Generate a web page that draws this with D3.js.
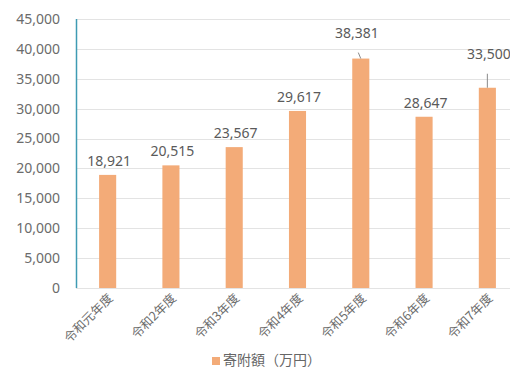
<!DOCTYPE html>
<meta charset="utf-8">
<head>
  <style>
    body { margin: 0; background: #fff; }
    text { font-family: "Noto Sans", "Noto Sans CJK JP", sans-serif; }
    .grid line { stroke: #e3e3e3; stroke-width: 1px; }
    .ytick { fill: #6b6b6b; font-size: 14px; }
    .xtick { fill: #6b6b6b; font-size: 12.5px; font-family: "Noto Sans CJK JP", sans-serif; }
    .val { fill: #5a5a5a; font-size: 14px; }
    .legend { fill: #666; font-size: 14px; font-family: "Noto Sans CJK JP", sans-serif; }
  </style>
  <script src="https://d3js.org/d3.v7.min.js"></script>
</head>
<body>
  <svg width="510" height="369"></svg>
  <script>
    var years = ["令和元年度", "令和2年度", "令和3年度", "令和4年度", "令和5年度", "令和6年度", "令和7年度"];
    var amounts = [18921, 20515, 23567, 29617, 38381, 28647, 33500];
    var yTicks = [0, 5000, 10000, 15000, 20000, 25000, 30000, 35000, 40000, 45000];
    var seriesName = "寄附額（万円）";
    // extra lift for the two labels that sit on leader lines
    var labelLift = [0, 0, 0, 0, 12, 0, 20];

    var svg = d3.select("svg");
    var barColor = "#f3ab78";

    var x = d3.scaleBand()
      .domain(years)
      .range([76, 519])
      .paddingInner(0.73)
      .paddingOuter(0.365);

    var y = d3.scaleLinear()
      .domain([0, 45000])
      .range([288, 19]);

    var cx = function(i) { return x(years[i]) + x.bandwidth() / 2; };

    // grid
    svg.append("g")
      .attr("class", "grid")
      .selectAll("line")
      .data(yTicks)
      .enter().append("line")
      .attr("x1", 76)
      .attr("x2", 510)
      .attr("y1", function(d) { return Math.round(y(d)) + 0.5; })
      .attr("y2", function(d) { return Math.round(y(d)) + 0.5; });

    // y labels
    svg.selectAll(".ytick")
      .data(yTicks)
      .enter().append("text")
      .attr("class", "ytick")
      .attr("x", 60)
      .attr("y", function(d) { return y(d); })
      .attr("dy", "0.35em")
      .attr("text-anchor", "end")
      .text(d3.format(","));

    // axis line
    svg.append("line")
      .attr("x1", 76.5).attr("x2", 76.5)
      .attr("y1", y(45000)).attr("y2", y(0))
      .attr("stroke", "#3f9bb3")
      .attr("stroke-width", 1.5);

    // bars
    svg.selectAll(".bar")
      .data(amounts)
      .enter().append("rect")
      .attr("class", "bar")
      .attr("x", function(d, i) { return x(years[i]); })
      .attr("width", x.bandwidth())
      .attr("y", function(d) { return y(d); })
      .attr("height", function(d) { return y(0) - y(d); })
      .attr("fill", barColor);

    // leader lines
    var leaders = d3.range(amounts.length).filter(function(i) { return labelLift[i] > 0; });
    svg.selectAll(".leader")
      .data(leaders)
      .enter().append("line")
      .attr("class", "leader")
      .attr("x1", function(i) { return cx(i) - (i === 4 ? 2.5 : 0); })
      .attr("x2", function(i) { return cx(i); })
      .attr("y1", function(i) { return y(amounts[i]) - labelLift[i] + 6; })
      .attr("y2", function(i) { return y(amounts[i]); })
      .attr("stroke", "#8a8a8a")
      .attr("stroke-width", 1);

    // value labels
    svg.selectAll(".val")
      .data(amounts)
      .enter().append("text")
      .attr("class", "val")
      .attr("x", function(d, i) { return cx(i) + (i === 4 ? -4 : 1.5); })
      .attr("y", function(d, i) { return y(d) - 9 - labelLift[i]; })
      .attr("text-anchor", "middle")
      .text(d3.format(","));

    // x labels
    svg.selectAll(".xtick")
      .data(years)
      .enter().append("text")
      .attr("class", "xtick")
      .attr("text-anchor", "end")
      .attr("transform", function(d, i) {
        return "translate(" + (cx(i) + 6) + ",299) rotate(-45)";
      })
      .text(function(d) { return d; });

    // legend
    svg.append("rect")
      .attr("x", 212).attr("y", 357)
      .attr("width", 8).attr("height", 8)
      .attr("fill", barColor);
    svg.append("text")
      .attr("class", "legend")
      .attr("x", 223).attr("y", 360)
      .attr("dy", "0.35em")
      .text(seriesName);
  </script>
</body>
